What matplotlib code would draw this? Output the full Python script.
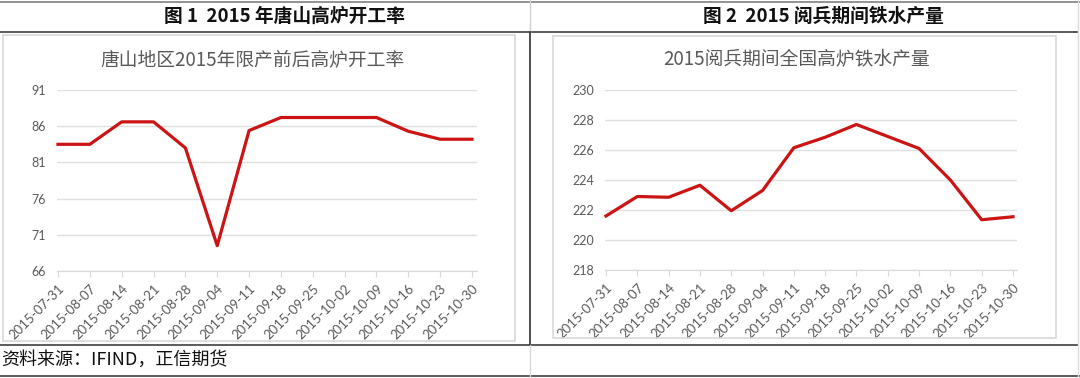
import matplotlib
matplotlib.use('Agg')
import matplotlib.pyplot as plt
from matplotlib.lines import Line2D
from matplotlib.patches import Rectangle

# data
dates = ['2015-07-31', '2015-08-07', '2015-08-14', '2015-08-21', '2015-08-28',
         '2015-09-04', '2015-09-11', '2015-09-18', '2015-09-25', '2015-10-02',
         '2015-10-09', '2015-10-16', '2015-10-23', '2015-10-30']
tangshan_rate = [83.5, 83.5, 86.6, 86.6, 83.0, 69.5, 85.4, 87.2, 87.2, 87.2,
                 87.2, 85.3, 84.2, 84.2]
iron_output = [221.6, 222.9, 222.85, 223.65, 221.95, 223.3, 226.15, 226.85,
               227.7, 226.9, 226.1, 224.0, 221.35, 221.55]
left_yticks = [66, 71, 76, 81, 86, 91]
right_yticks = [218, 220, 222, 224, 226, 228, 230]

header1 = '图 1  2015 年唐山高炉开工率'
header2 = '图 2  2015 阅兵期间铁水产量'
title1 = '唐山地区2015年限产前后高炉开工率'
title2 = '2015阅兵期间全国高炉铁水产量'
source = '资料来源：IFIND，正信期货'

W, H = 1080, 378
CJK = ['Noto Sans CJK SC', 'DejaVu Sans']
plt.rcParams['font.family'] = CJK

fig = plt.figure(figsize=(W / 100, H / 100), dpi=100)


def fx(px):
    return px / W


def fy(py):
    return 1 - py / H


def hline(y, x0, x1, color, lw=1.0):
    fig.add_artist(Line2D([fx(x0), fx(x1)], [fy(y), fy(y)], color=color, lw=lw))


def vline(x, y0, y1, color, lw=1.0):
    fig.add_artist(Line2D([fx(x), fx(x)], [fy(y0), fy(y1)], color=color, lw=lw))


# table frame
hline(2, 0, 1080, '#808080', 1.2)
hline(32, 0, 1078, '#404040', 1.2)
hline(345, 0, 1078, '#404040', 1.2)
hline(376, 0, 1080, '#404040', 1.2)
vline(530, 0, 32, '#d0d0d0')
vline(530, 32, 345, '#303030', 1.2)
vline(530, 345, 378, '#d8d8d8')
vline(1078, 0, 378, '#dcdcdc')

# chart boxes
for x0, y0, x1, y1 in [(3, 35, 515, 341), (553, 36, 1056, 338)]:
    fig.add_artist(Rectangle((fx(x0), fy(y1)), fx(x1) - fx(x0), fy(y0) - fy(y1),
                             transform=fig.transFigure, fill=False,
                             edgecolor='#d9d9d9', lw=1.2))

fig.text(fx(284), fy(16), header1, ha='center', va='center', fontsize=13.5,
         fontweight='bold', color='#111111')
fig.text(fx(823), fy(16), header2, ha='center', va='center', fontsize=13.5,
         fontweight='bold', color='#111111')
fig.text(fx(252), fy(60), title1, ha='center', va='center', fontsize=13.5,
         color='#595959')
fig.text(fx(797), fy(60), title2, ha='center', va='center', fontsize=13.5,
         color='#595959')
fig.text(fx(1), fy(360), source, ha='left', va='center', fontsize=13,
         color='#111111')


def make_axes(x0, x1, y0, y1, values, yticks, first_px, last_px):
    ax = fig.add_axes([fx(x0), fy(y1), fx(x1) - fx(x0), fy(y0) - fy(y1)])
    xs = list(range(len(values)))
    ppu = (last_px - first_px) / (len(values) - 1)
    ax.set_xlim(-(first_px - x0) / ppu, xs[-1] + (x1 - last_px) / ppu)
    ax.set_ylim(yticks[0], yticks[-1])
    ax.plot(xs, values, color='#cc1414', lw=2.3, solid_joinstyle='round',
            clip_on=False, zorder=3)
    ax.set_yticks(yticks)
    ax.set_yticklabels([str(t) for t in yticks])
    ax.set_xticks(xs)
    ax.set_xticklabels(dates, rotation=45, ha='right', va='top',
                       rotation_mode='anchor')
    ax.grid(axis='y', color='#e0e0e0', lw=1.0)
    ax.set_axisbelow(True)
    for s in ['top', 'right', 'left']:
        ax.spines[s].set_visible(False)
    ax.spines['bottom'].set_color('#d9d9d9')
    ax.tick_params(axis='y', length=0, pad=8, labelsize=9, labelcolor='#595959')
    ax.tick_params(axis='x', length=4, color='#d9d9d9', pad=4, labelsize=9.5,
                   labelcolor='#595959')
    for lab in ax.get_xticklabels() + ax.get_yticklabels():
        lab.set_family(['Lato', 'DejaVu Sans'])
    ax.patch.set_alpha(0)
    return ax


make_axes(57, 477, 90, 271, tangshan_rate, left_yticks, 58, 472)
make_axes(605, 1017, 90, 270, iron_output, right_yticks, 606, 1013)

fig.savefig('out.png', dpi=100)
